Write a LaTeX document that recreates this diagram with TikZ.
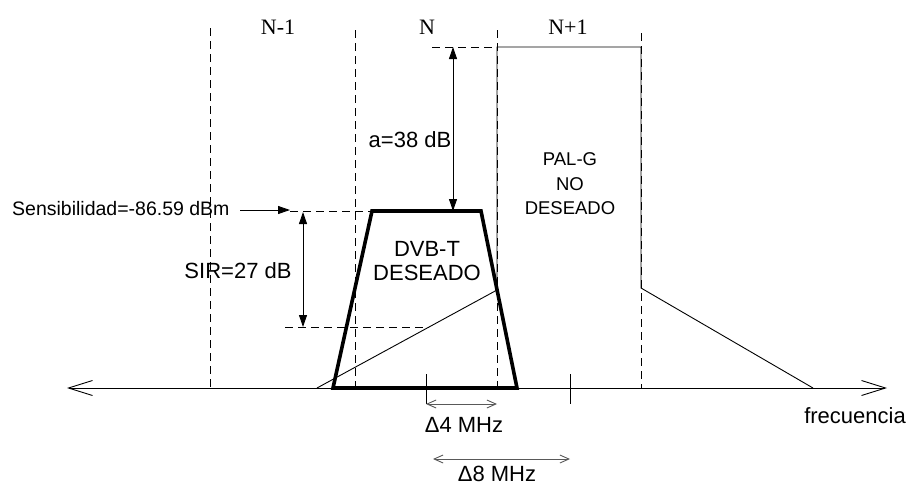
\documentclass[tikz,border=0pt]{standalone}
\usepackage{fontspec}
\setmainfont{Liberation Sans}
\newfontfamily\chanfont{Liberation Serif}
\usetikzlibrary{arrows.meta}
\begin{document}
\begin{tikzpicture}[x=1pt,y=-1pt,
  thinln/.style={line width=0.9pt},
  dashln/.style={line width=0.9pt, dash pattern=on 8pt off 5pt},
  thickshape/.style={line width=3.6pt, line join=miter},
  dimarrow/.style={line width=0.9pt, {Triangle[length=12pt,width=8pt]}-{Triangle[length=12pt,width=8pt]}},
  onearrow/.style={line width=0.9pt, -{Triangle[length=12pt,width=8pt]}},
  axisln/.style={line width=0.9pt, {Straight Barb[length=24pt,width=15pt,line width=0.9pt]}-{Straight Barb[length=24pt,width=15pt,line width=0.9pt]}},
  deltaarrow/.style={line width=1pt, draw=black!65, {Straight Barb[length=9pt,width=8pt,line width=0.9pt]}-{Straight Barb[length=9pt,width=8pt,line width=0.9pt]}},
  lbl/.style={inner sep=0pt, font=\fontsize{22}{24}\selectfont},
  smlbl/.style={inner sep=0pt, font=\fontsize{19.5}{24}\selectfont},
  chan/.style={inner sep=0pt, font=\chanfont\fontsize{22}{24}\selectfont}]
\useasboundingbox (0,0) rectangle (912,485);

% coordinates
\coordinate (axL) at (67,388);
\coordinate (axR) at (887,388);
\coordinate (v1t) at (210,28);  \coordinate (v1b) at (210,388);
\coordinate (v2t) at (355,30);  \coordinate (v2b) at (355,388);
\coordinate (v3t) at (497,30);  \coordinate (v3b) at (497,388);
\coordinate (v4t) at (641,33);  \coordinate (v4b) at (641,388);
\coordinate (p1) at (317,388);
\coordinate (p2) at (497,290);
\coordinate (p3) at (497,47);
\coordinate (p4) at (641,47);
\coordinate (p5) at (641,288);
\coordinate (p6) at (813,388);
\coordinate (topd) at (432,47);
\coordinate (t1) at (333,388);
\coordinate (t2) at (372,211);
\coordinate (t3) at (481,211);
\coordinate (t4) at (517,388);
\coordinate (sd) at (290,211);
\coordinate (sa) at (240,210);
\coordinate (sb) at (290,210);
\coordinate (aT) at (453,47);
\coordinate (aB) at (453,211);
\coordinate (sT) at (303,212);
\coordinate (sB) at (303,327);
\coordinate (sdL) at (285,327);
\coordinate (sdR) at (429,327);
\coordinate (k1t) at (426,374); \coordinate (k1b) at (426,404);
\coordinate (k2t) at (570,374); \coordinate (k2b) at (570,404);
\coordinate (d4L) at (426,404); \coordinate (d4R) at (497,404);
\coordinate (d8L) at (433,459); \coordinate (d8R) at (570,459);

% channel boundaries
\draw[dashln] (v1t) -- (v1b);
\draw[dashln] (v2t) -- (v2b);
\draw[dashln] (v3t) -- (v3b);
\draw[dashln] (v4t) -- (v4b);

% PAL-G spectrum
\draw[thinln] (p1) -- (p2) -- (p3) -- (p4) -- (p5) -- (p6);
\draw[dashln] (topd) -- (p3);

% axis
\draw[axisln] (axL) -- (axR);

% DVB-T trapezoid
\draw[thickshape] (t1) -- (t2) -- (t3) -- (t4) -- cycle;

% sensitivity level
\draw[dashln] (sd) -- (t2);
\draw[onearrow] (sa) -- (sb);
\node[smlbl, anchor=west] (sens) at (12,209) {Sensibilidad=-86.59 dBm};

% a = 38 dB
\draw[dimarrow] (aT) -- (aB);
\node[lbl] (alab) at (410,140) {a=38 dB};

% SIR
\draw[dimarrow] (sT) -- (sB);
\draw[dashln] (sdL) -- (sdR);
\node[lbl] (sirlab) at (238,271) {SIR=27 dB};

% labels in shapes
\node[lbl, align=center] (dvb) at (427,261) {DVB-T\\DESEADO};
\node[inner sep=0pt, align=center, font=\fontsize{18.5}{24.5}\selectfont] (pal) at (570,184) {PAL-G\\NO\\DESEADO};

% channel names
\node[chan] (n1) at (278,27) {N-1};
\node[chan] (n0) at (427,27) {N};
\node[chan] (n2) at (568,27) {N+1};

% ticks and deltas
\draw[thinln] (k1t) -- (k1b);
\draw[thinln] (k2t) -- (k2b);
\draw[deltaarrow] (d4L) -- (d4R);
\draw[deltaarrow] (d8L) -- (d8R);
\node[lbl] (d4) at (464,425) {Δ4 MHz};
\node[lbl] (d8) at (497,474) {Δ8 MHz};

\node[lbl] (freq) at (855,416) {frecuencia};
\end{tikzpicture}
\end{document}
